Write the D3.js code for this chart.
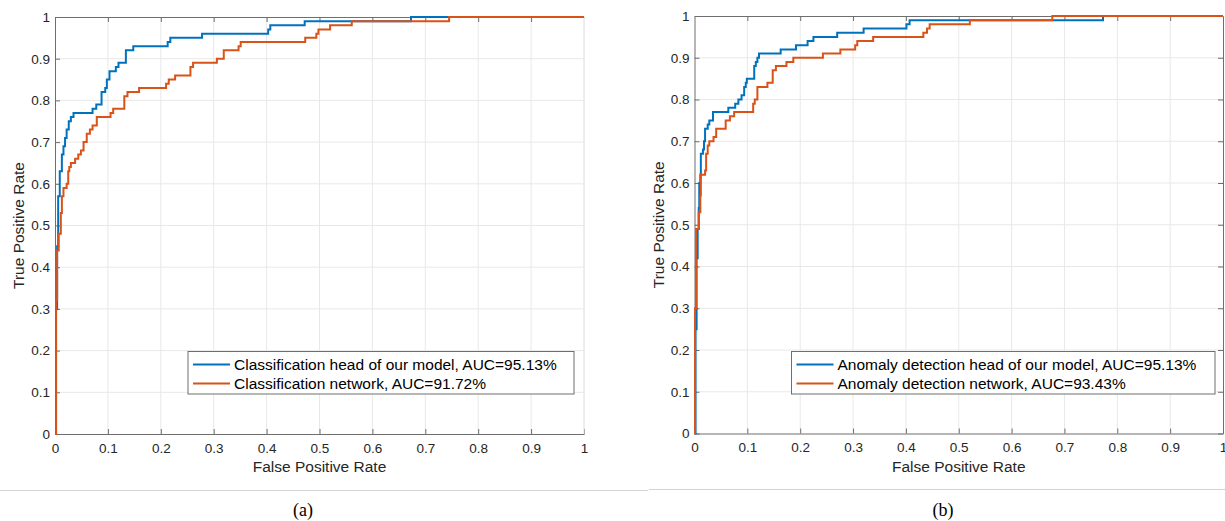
<!DOCTYPE html>
<html>
<head>
<meta charset="utf-8">
<script src="https://cdn.jsdelivr.net/npm/d3@7"></script>
<style>
  html, body { margin: 0; padding: 0; background: #fff; }
  svg { display: block; }
</style>
</head>
<body>
<svg id="chart" width="1225" height="521"></svg>
<script>
// ---------------- DATA ----------------
const ticks = [0, 0.1, 0.2, 0.3, 0.4, 0.5, 0.6, 0.7, 0.8, 0.9, 1];
const tickLabels = ["0", "0.1", "0.2", "0.3", "0.4", "0.5", "0.6", "0.7", "0.8", "0.9", "1"];

// Panel (a)
const aBlueFPR = [0, 0.002, 0.004, 0.006, 0.009, 0.013, 0.016, 0.019, 0.022, 0.026, 0.030, 0.035, 0.071, 0.078, 0.088, 0.095, 0.098, 0.103, 0.115, 0.120, 0.134, 0.148, 0.213, 0.218, 0.278, 0.403, 0.407, 0.472, 0.673, 1];
const aBlueTPR = [0, 0.30, 0.45, 0.57, 0.63, 0.67, 0.69, 0.71, 0.73, 0.75, 0.76, 0.77, 0.78, 0.79, 0.82, 0.83, 0.85, 0.87, 0.88, 0.89, 0.92, 0.93, 0.94, 0.95, 0.96, 0.97, 0.98, 0.99, 1.0, 1.0];
const aOrangeFPR = [0, 0.002, 0.004, 0.007, 0.011, 0.013, 0.016, 0.022, 0.025, 0.027, 0.030, 0.038, 0.044, 0.049, 0.054, 0.060, 0.066, 0.071, 0.079, 0.105, 0.110, 0.131, 0.137, 0.159, 0.210, 0.215, 0.227, 0.256, 0.261, 0.306, 0.319, 0.347, 0.351, 0.473, 0.494, 0.498, 0.520, 0.561, 0.745, 1];
const aOrangeTPR = [0, 0.32, 0.44, 0.48, 0.53, 0.57, 0.59, 0.60, 0.63, 0.64, 0.65, 0.66, 0.67, 0.68, 0.70, 0.72, 0.73, 0.74, 0.76, 0.77, 0.78, 0.81, 0.82, 0.83, 0.84, 0.85, 0.86, 0.88, 0.89, 0.90, 0.92, 0.93, 0.94, 0.95, 0.96, 0.97, 0.98, 0.99, 1.0, 1.0];
const aLegend = ["Classification head of our model, AUC=95.13%", "Classification network, AUC=91.72%"];

// Panel (b)
const bBlueFPR = [0, 0.002, 0.004, 0.006, 0.008, 0.009, 0.011, 0.012, 0.016, 0.018, 0.020, 0.025, 0.028, 0.035, 0.064, 0.077, 0.083, 0.089, 0.094, 0.097, 0.099, 0.113, 0.116, 0.119, 0.122, 0.163, 0.192, 0.214, 0.225, 0.270, 0.320, 0.401, 0.407, 0.773, 1];
const bBlueTPR = [0, 0.25, 0.42, 0.49, 0.54, 0.60, 0.62, 0.67, 0.68, 0.70, 0.73, 0.74, 0.75, 0.77, 0.78, 0.79, 0.80, 0.81, 0.83, 0.84, 0.85, 0.88, 0.89, 0.90, 0.91, 0.92, 0.93, 0.94, 0.95, 0.96, 0.97, 0.98, 0.99, 1.0, 1.0];
const bOrangeFPR = [0, 0.001, 0.003, 0.008, 0.011, 0.012, 0.020, 0.022, 0.025, 0.028, 0.036, 0.041, 0.059, 0.067, 0.075, 0.111, 0.114, 0.119, 0.138, 0.148, 0.154, 0.174, 0.187, 0.243, 0.276, 0.304, 0.308, 0.338, 0.433, 0.440, 0.445, 0.521, 0.677, 1];
const bOrangeTPR = [0, 0.30, 0.49, 0.53, 0.57, 0.62, 0.63, 0.67, 0.69, 0.70, 0.71, 0.73, 0.75, 0.76, 0.77, 0.79, 0.80, 0.83, 0.84, 0.87, 0.88, 0.89, 0.90, 0.91, 0.92, 0.93, 0.94, 0.95, 0.96, 0.97, 0.98, 0.99, 1.0, 1.0];
const bLegend = ["Anomaly detection head of our model, AUC=95.13%", "Anomaly detection network, AUC=93.43%"];

const seriesColors = ["#0072BD", "#D95319"];
const xLabel = "False Positive Rate";
const yLabel = "True Positive Rate";

// ---------------- DRAW ----------------
const svg = d3.select("#chart");
const FONT = "'Liberation Sans', Arial, Helvetica, sans-serif";
const AXIS = "#6e6e6e";
const TXT = "#262626";
const GRID = "#e8e8e8";

function panel(cfg) {
  const x = d3.scaleLinear().domain([0, 1]).range([cfg.x0, cfg.x1]);
  const y = d3.scaleLinear().domain([0, 1]).range([cfg.y0, cfg.y1]);
  const g = svg.append("g");

  // grid
  g.append("g").selectAll("line").data(ticks.slice(1, cfg.rightBox ? -1 : undefined)).join("line")
    .attr("x1", d => x(d)).attr("x2", d => x(d))
    .attr("y1", cfg.y0).attr("y2", cfg.y1)
    .attr("stroke", GRID).attr("stroke-width", 1);
  g.append("g").selectAll("line").data(ticks.slice(1, -1)).join("line")
    .attr("x1", cfg.x0).attr("x2", cfg.x1)
    .attr("y1", d => y(d)).attr("y2", d => y(d))
    .attr("stroke", GRID).attr("stroke-width", 1);

  // axes
  const fmt = (d, i) => tickLabels[i];
  const xAxis = g.append("g").attr("transform", `translate(0,${cfg.y0})`)
    .call(d3.axisBottom(x).tickValues(ticks).tickFormat(fmt).tickSizeInner(-5).tickSizeOuter(0).tickPadding(9));
  const yAxis = g.append("g").attr("transform", `translate(${cfg.x0},0)`)
    .call(d3.axisLeft(y).tickValues(ticks).tickFormat(fmt).tickSizeInner(-5).tickSizeOuter(0).tickPadding(5));
  const topAxis = g.append("g").attr("transform", `translate(0,${cfg.y1})`)
    .call(d3.axisTop(x).tickValues(ticks).tickFormat("").tickSizeInner(-5).tickSizeOuter(0));
  [xAxis, yAxis, topAxis].forEach(a => {
    a.select(".domain").attr("stroke", AXIS);
    a.selectAll(".tick line").attr("stroke", AXIS);
    a.selectAll("text").attr("fill", TXT).style("font-family", FONT).style("font-size", "13.5px");
  });
  topAxis.selectAll(".tick").filter(d => d === 0 || d === 1).remove();
  if (cfg.rightBox) {
    const rAxis = g.append("g").attr("transform", `translate(${cfg.x1},0)`)
      .call(d3.axisRight(y).tickValues(ticks).tickFormat("").tickSizeInner(-5).tickSizeOuter(0));
    rAxis.select(".domain").attr("stroke", AXIS);
    rAxis.selectAll(".tick line").attr("stroke", AXIS);
  } else {
    g.append("line").attr("x1", cfg.x1).attr("x2", cfg.x1).attr("y1", cfg.y0).attr("y2", cfg.y1)
      .attr("stroke", GRID);
  }

  // curves
  const line = d3.line().x(d => x(d[0])).y(d => y(d[1])).curve(d3.curveStepAfter);
  cfg.series.forEach((s, i) => {
    const pts = s.fpr.map((f, k) => [f, s.tpr[k]]);
    g.append("path").datum(pts).attr("d", line)
      .attr("fill", "none").attr("stroke", seriesColors[i]).attr("stroke-width", 2)
      .attr("stroke-linejoin", "miter");
  });

  // labels
  g.append("text").attr("x", (cfg.x0 + cfg.x1) / 2).attr("y", cfg.y0 + 38)
    .attr("text-anchor", "middle").attr("fill", TXT)
    .style("font-family", FONT).style("font-size", "15.5px").text(xLabel);
  g.append("text").attr("transform", `translate(${cfg.yLabelX},${(cfg.y0 + cfg.y1) / 2}) rotate(-90)`)
    .attr("text-anchor", "middle").attr("fill", TXT)
    .style("font-family", FONT).style("font-size", "15.5px").text(yLabel);

  // legend
  const L = cfg.legend;
  g.append("rect").attr("x", L.x).attr("y", L.y).attr("width", L.w).attr("height", L.h)
    .attr("fill", "#fff").attr("stroke", AXIS).attr("stroke-width", 1);
  cfg.legendText.forEach((t, i) => {
    const yy = L.y + 13 + i * 19;
    g.append("line").attr("x1", L.x + 5).attr("x2", L.x + 42).attr("y1", yy).attr("y2", yy)
      .attr("stroke", seriesColors[i]).attr("stroke-width", 2);
    g.append("text").attr("x", L.x + 46).attr("y", yy + 5.5).attr("fill", "#000")
      .style("font-family", FONT).style("font-size", "15.5px").text(t);
  });

  // caption
  svg.append("text").attr("x", cfg.capX).attr("y", 516).attr("text-anchor", "middle")
    .attr("fill", "#000").style("font-family", "'Liberation Serif', 'Times New Roman', serif")
    .style("font-size", "18px").text(cfg.caption);
}

panel({
  x0: 55, x1: 584, y0: 434, y1: 17, yLabelX: 24, rightBox: false,
  series: [{fpr: aBlueFPR, tpr: aBlueTPR}, {fpr: aOrangeFPR, tpr: aOrangeTPR}],
  legend: {x: 188, y: 351.5, w: 386, h: 42.5}, legendText: aLegend,
  caption: "(a)", capX: 303
});
panel({
  x0: 694.5, x1: 1223, y0: 433.5, y1: 16, yLabelX: 664, rightBox: true,
  series: [{fpr: bBlueFPR, tpr: bBlueTPR}, {fpr: bOrangeFPR, tpr: bOrangeTPR}],
  legend: {x: 791.5, y: 351.5, w: 423.5, h: 42.5}, legendText: bLegend,
  caption: "(b)", capX: 943
});

// separator lines
svg.append("line").attr("x1", 0).attr("x2", 648).attr("y1", 490.5).attr("y2", 490.5).attr("stroke", "#d4d4d4");
svg.append("line").attr("x1", 649).attr("x2", 1225).attr("y1", 489.5).attr("y2", 489.5).attr("stroke", "#d4d4d4");
</script>
</body>
</html>
